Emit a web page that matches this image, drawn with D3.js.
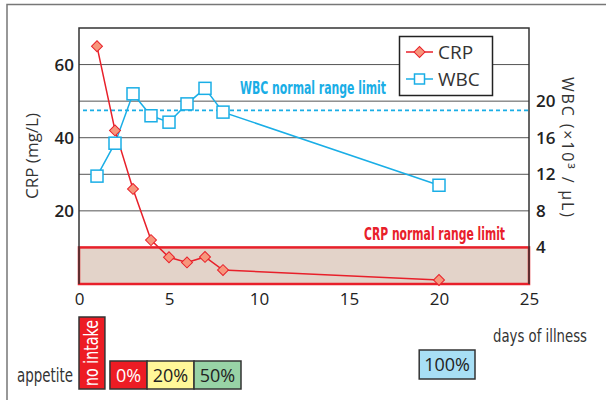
<!DOCTYPE html>
<html><head><meta charset="utf-8">
<script src="https://cdn.jsdelivr.net/npm/d3@7"></script>
<style>
html,body{margin:0;padding:0;background:#fff;}
svg text{font-family:"Open Sans","Noto Sans",sans-serif;}
.cond{font-family:"Liberation Sans Narrow","DejaVu Sans Condensed",sans-serif;}
</style></head>
<body>
<svg id="c" width="606" height="400"></svg>
<script>
// ---- data ----
const days      = [1, 2, 3, 4, 5, 6, 7, 8, 20];
const crpValues = [65, 42, 26, 12, 7.3, 5.9, 7.4, 3.8, 1.1];
const wbcValues = [11.8, 15.4, 20.8, 18.4, 17.7, 19.7, 21.4, 18.8, 10.8];
const crpNormalLimit = 10;
const wbcNormalLimit = 19;
const xTicks   = [0, 5, 10, 15, 20, 25];
const crpTicks = [20, 40, 60];
const crpGrid  = [10, 20, 30, 40, 50, 60];
const wbcTicks = [4, 8, 12, 16, 20];
const appetiteLabels = ["no intake", "0%", "20%", "50%", "100%"];
const appetiteFrom   = [0, 1.72, 3.78, 6.39, 18.9];
const appetiteTo     = [1.44, 3.78, 6.39, 9.0, 22.0];
const appetiteColors = ["#ed1c24", "#ed1c24", "#fff799", "#98d3a6", "#a8dff5"];

// ---- layout ----
const svg = d3.select("#c");
const L = 79, R = 529, T = 28, B = 284;
const x = d3.scaleLinear().domain([0, 25]).range([L, R]);
const yC = d3.scaleLinear().domain([0, 70]).range([B, T]);
const yW = d3.scaleLinear().domain([0, 28]).range([B, T]);
const red = "#e8202a", blue = "#1aaee6";

// outer frame
svg.append("path").attr("d", `M7,400 L7,4.5 L606,4.5`).attr("fill","none").attr("stroke","#777").attr("stroke-width",1.5);

// gridlines
svg.append("g").selectAll("line").data(crpGrid).join("line")
  .attr("x1", L).attr("x2", R).attr("y1", d => yC(d)).attr("y2", d => yC(d))
  .attr("stroke", "#555").attr("stroke-width", 1);

// CRP normal range rect
svg.append("rect").attr("x", x(0)).attr("y", yC(crpNormalLimit))
  .attr("width", x(25) - x(0)).attr("height", yC(0) - yC(crpNormalLimit))
  .attr("fill", "#e3d3c9").attr("stroke", red).attr("stroke-width", 2.5);

// plot frame (left, top, right)
svg.append("path").attr("d", `M${L},${B} L${L},${T} L${R},${T} L${R},${B}`)
  .attr("fill","none").attr("stroke","#333").attr("stroke-width",1.5);

// WBC normal dashed line
svg.append("line").attr("x1", L + 4).attr("x2", R).attr("y1", yW(wbcNormalLimit)).attr("y2", yW(wbcNormalLimit))
  .attr("stroke", blue).attr("stroke-width", 1.8).attr("stroke-dasharray", "4,3");

svg.append("text").attr("class","cond").attr("x", 240).attr("y", 94)
  .attr("font-size", 17).attr("font-weight", "bold").attr("fill", blue)
  .attr("textLength", 146).attr("lengthAdjust","spacingAndGlyphs")
  .text("WBC normal range limit");
svg.append("text").attr("class","cond").attr("x", 364).attr("y", 240)
  .attr("font-size", 17).attr("font-weight", "bold").attr("fill", red)
  .attr("textLength", 141).attr("lengthAdjust","spacingAndGlyphs")
  .text("CRP normal range limit");

// axes labels
const xAxis = d3.axisBottom(x).tickValues(xTicks).tickSize(0).tickPadding(0);
const gx = svg.append("g").attr("transform", `translate(0,${B})`).call(xAxis);
gx.select(".domain").remove();
gx.selectAll("text").attr("font-size", 17).attr("fill", "#222").attr("dy", 0).attr("y", 21)
  .style("font-family", '"Open Sans",sans-serif');

const yAxisL = d3.axisLeft(yC).tickValues(crpTicks).tickSize(0).tickPadding(5);
const gyl = svg.append("g").attr("transform", `translate(${L},0)`).call(yAxisL);
gyl.select(".domain").remove();
gyl.selectAll("text").attr("font-size", 17).attr("font-weight", 600).attr("fill", "#222")
  .style("font-family", '"Open Sans",sans-serif');

const yAxisR = d3.axisRight(yW).tickValues(wbcTicks).tickSize(0).tickPadding(7);
const gyr = svg.append("g").attr("transform", `translate(${R},0)`).call(yAxisR);
gyr.select(".domain").remove();
gyr.selectAll("text").attr("font-size", 17).attr("font-weight", 600).attr("fill", "#222")
  .style("font-family", '"Open Sans",sans-serif');

// axis titles
svg.append("text").attr("transform", `translate(38,${(T + B) / 2}) rotate(-90)`)
  .attr("text-anchor", "middle").attr("font-size", 17).attr("fill", "#333").text("CRP (mg/L)");
svg.append("text").attr("transform", `translate(562,77) rotate(90)`)
  .attr("text-anchor", "start").attr("font-size", 16).attr("fill", "#333")
  .attr("textLength", 140).attr("lengthAdjust", "spacing")
  .text("WBC (×10³ / μL)");

svg.append("text").attr("class","cond").attr("x", 493).attr("y", 342)
  .attr("font-size", 18).attr("fill", "#333").attr("textLength", 94).attr("lengthAdjust","spacingAndGlyphs")
  .text("days of illness");

// lines
const crpData = days.map((d, i) => ({d, v: crpValues[i]}));
const wbcData = days.map((d, i) => ({d, v: wbcValues[i]}));
svg.append("path").datum(wbcData)
  .attr("d", d3.line().x(p => x(p.d)).y(p => yW(p.v)))
  .attr("fill", "none").attr("stroke", blue).attr("stroke-width", 1.5);
svg.append("path").datum(crpData)
  .attr("d", d3.line().x(p => x(p.d)).y(p => yC(p.v)))
  .attr("fill", "none").attr("stroke", red).attr("stroke-width", 1.5);

// markers
const diamond = d3.symbol().type(d3.symbolSquare).size(60);
svg.append("g").selectAll("path").data(crpData).join("path")
  .attr("d", diamond).attr("transform", p => `translate(${x(p.d)},${yC(p.v)}) rotate(45)`)
  .attr("fill", "#f7967c").attr("stroke", red).attr("stroke-width", 1);
svg.append("g").selectAll("rect").data(wbcData).join("rect")
  .attr("x", p => x(p.d) - 6).attr("y", p => yW(p.v) - 6).attr("width", 12).attr("height", 12)
  .attr("fill", "#fff").attr("stroke", blue).attr("stroke-width", 1.5);

// legend
const lg = svg.append("g");
lg.append("rect").attr("x", 399.5).attr("y", 36.5).attr("width", 93).attr("height", 59)
  .attr("fill", "#fff").attr("stroke", "#222").attr("stroke-width", 1.5);
lg.append("line").attr("x1", 406).attr("x2", 433).attr("y1", 52).attr("y2", 52).attr("stroke", red).attr("stroke-width", 1.5);
lg.append("path").attr("d", diamond).attr("transform", "translate(419.5,52) rotate(45)")
  .attr("fill", "#f7967c").attr("stroke", red);
lg.append("text").attr("x", 438).attr("y", 59).attr("font-size", 19).attr("fill", "#333").text("CRP");
lg.append("line").attr("x1", 406).attr("x2", 433).attr("y1", 79).attr("y2", 79).attr("stroke", blue).attr("stroke-width", 1.5);
lg.append("rect").attr("x", 414.5).attr("y", 74).attr("width", 10).attr("height", 10)
  .attr("fill", "#fff").attr("stroke", blue).attr("stroke-width", 1.5);
lg.append("text").attr("x", 438).attr("y", 86).attr("font-size", 19).attr("fill", "#333").text("WBC");

// appetite
svg.append("text").attr("class","cond").attr("x", 17).attr("y", 382)
  .attr("font-size", 19).attr("fill", "#333").attr("textLength", 56).attr("lengthAdjust","spacingAndGlyphs")
  .text("appetite");
const boxTop = [317, 361, 361, 361, 350];
const boxBot = [389, 389, 389, 389, 379];
const ap = svg.append("g");
appetiteLabels.forEach((lab, i) => {
  const x0 = x(appetiteFrom[i]), x1 = x(appetiteTo[i]);
  ap.append("rect").attr("x", x0).attr("y", boxTop[i]).attr("width", x1 - x0).attr("height", boxBot[i] - boxTop[i])
    .attr("fill", appetiteColors[i]).attr("stroke", "#333").attr("stroke-width", 1.5);
  const cx = (x0 + x1) / 2, cy = (boxTop[i] + boxBot[i]) / 2;
  if (i === 0) {
    ap.append("text").attr("class","cond").attr("transform", `translate(${cx + 6.5},${cy}) rotate(-90)`)
      .attr("text-anchor", "middle").attr("font-size", 19).attr("fill", "#fff")
      .attr("textLength", 66).attr("lengthAdjust","spacingAndGlyphs").text(lab);
  } else {
    ap.append("text").attr("x", cx).attr("y", cy + 6.5).attr("text-anchor", "middle")
      .attr("font-size", 18).attr("fill", i === 1 ? "#fff" : "#222").text(lab);
  }
});
</script>
</body></html>
